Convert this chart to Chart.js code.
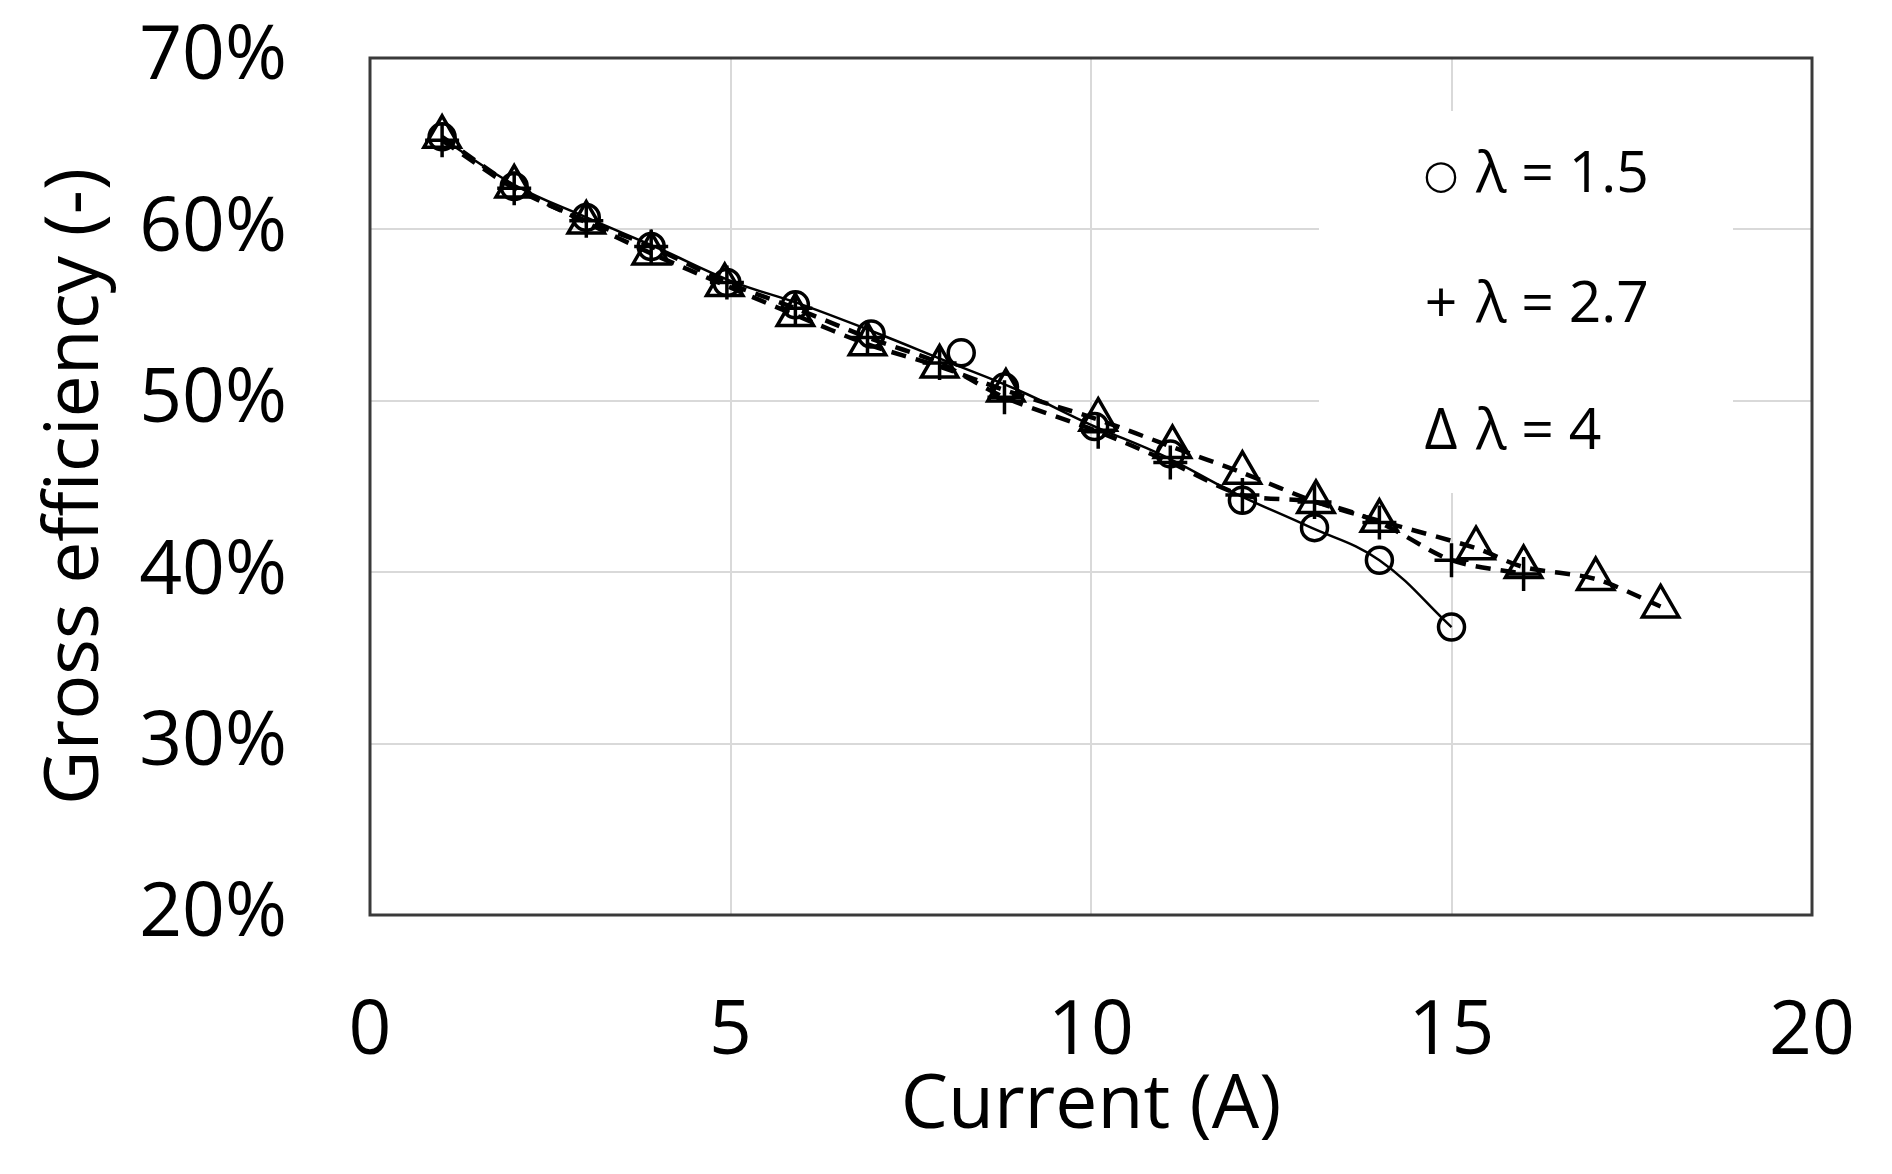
<!DOCTYPE html>
<html>
<head>
<meta charset="utf-8">
<script src="https://cdn.jsdelivr.net/npm/chart.js@4.4.1/dist/chart.umd.min.js"></script>
<style>
  html, body { margin: 0; padding: 0; background: #ffffff; }
  #wrap { position: relative; width: 1892px; height: 1174px; }
</style>
</head>
<body>
<div id="wrap"><canvas id="c" width="1892" height="1174"></canvas></div>
<script>
// ---------------- data ----------------
const xTickValues = [0, 5, 10, 15, 20];
const yTickValues = [20, 30, 40, 50, 60, 70];

// lambda = 1.5 (circles) measured points
const current15 = [1.0, 2.0, 3.0, 3.9, 4.95, 5.9, 6.95, 8.2, 8.8, 10.05, 11.1, 12.1, 13.1, 14.0, 15.0];
const eff15     = [65.4, 62.5, 60.7, 59.0, 56.9, 55.6, 53.9, 52.8, 50.8, 48.5, 46.9, 44.2, 42.6, 40.7, 36.8];

// lambda = 1.5 solid curve
const curveCurrent15 = [1, 2, 3, 4, 5, 6, 7, 8, 9, 10, 11, 12, 13, 14, 15];
const curveEff15     = [65.3, 62.6, 60.7, 58.9, 57.0, 55.6, 54.0, 52.3, 50.6, 48.6, 46.8, 44.6, 42.7, 40.7, 36.8];

// lambda = 2.7 (plus)
const current27 = [1.0, 2.0, 3.0, 3.9, 4.95, 5.9, 6.9, 7.9, 8.8, 10.1, 11.1, 12.1, 13.1, 14.0, 15.0, 16.0];
const eff27     = [65.2, 62.4, 60.5, 59.0, 56.9, 55.4, 53.7, 52.2, 50.2, 48.2, 46.4, 44.5, 44.1, 42.9, 40.7, 39.9];

// lambda = 4 (triangles)
const current4 = [1.0, 2.0, 3.0, 3.9, 4.92, 5.9, 6.9, 7.9, 8.82, 10.1, 11.13, 12.1, 13.12, 14.0, 15.34, 16.0, 17.0, 17.9];
const eff4     = [65.4, 62.5, 60.4, 58.6, 56.75, 55.0, 53.3, 52.0, 50.6, 48.9, 47.3, 45.8, 44.1, 43.0, 41.4, 40.3, 39.6, 38.0];

const legendSymbols = ['○', '+', 'Δ'];
const legendTexts = ['λ = 1.5', 'λ = 2.7', 'λ = 4'];

const xTitle = 'Current (A)';
const yTitle = 'Gross efficiency (-)';

// ---------------- helpers ----------------
const FONT = "'Open Sans', Lato, 'DejaVu Sans', sans-serif";
function pts(xs, ys) { return xs.map((x, i) => ({ x: x, y: ys[i] })); }

const frameAndLegend = {
  id: 'frameAndLegend',
  beforeDatasetsDraw(chart) {
    const { ctx, chartArea: a } = chart;
    ctx.save();
    // white legend box covering grid lines
    ctx.fillStyle = '#ffffff';
    ctx.fillRect(a.left + 949, a.top + 53, 414, 382);
    // plot frame
    ctx.strokeStyle = '#3a3a3a';
    ctx.lineWidth = 3;
    ctx.strokeRect(a.left, a.top, a.right - a.left, a.bottom - a.top);
    // legend text
    ctx.fillStyle = '#000000';
    const baseY = [a.top + 134, a.top + 264, a.top + 391];
    const symX = a.left + 1071;
    const txtX = a.left + 1106;
    for (let i = 0; i < legendTexts.length; i++) {
      ctx.textAlign = 'center';
      ctx.textBaseline = 'alphabetic';
      if (i === 0) {
        ctx.font = "40px 'DejaVu Sans', sans-serif";
        ctx.fillText(legendSymbols[i], symX, baseY[i] - 4);
      } else {
        ctx.font = '57px ' + FONT;
        ctx.fillText(legendSymbols[i], symX, baseY[i]);
      }
      ctx.textAlign = 'left';
      ctx.font = '57px ' + FONT;
      ctx.fillText(legendTexts[i], txtX, baseY[i]);
    }
    ctx.restore();
  }
};

new Chart(document.getElementById('c'), {
  type: 'scatter',
  data: {
    datasets: [
      {
        label: 'λ = 4',
        data: pts(current4, eff4),
        showLine: true,
        borderColor: '#000000',
        backgroundColor: 'rgba(0,0,0,0)',
        borderWidth: 4.5,
        borderDash: [15, 10],
        tension: 0.3,
        pointStyle: 'triangle',
        pointRadius: 21,
        pointBorderWidth: 3.5,
        pointBorderColor: '#000000',
        pointBackgroundColor: 'rgba(0,0,0,0)'
      },
      {
        label: 'λ = 2.7',
        data: pts(current27, eff27),
        showLine: true,
        borderColor: '#000000',
        backgroundColor: 'rgba(0,0,0,0)',
        borderWidth: 4.5,
        borderDash: [15, 10],
        tension: 0.3,
        pointStyle: 'cross',
        pointRadius: 17,
        pointBorderWidth: 3.5,
        pointBorderColor: '#000000',
        pointBackgroundColor: 'rgba(0,0,0,0)'
      },
      {
        label: 'λ = 1.5',
        data: pts(current15, eff15),
        showLine: false,
        pointStyle: 'circle',
        pointRadius: 13,
        pointBorderWidth: 3.5,
        pointBorderColor: '#000000',
        pointBackgroundColor: 'rgba(0,0,0,0)'
      },
      {
        label: 'λ = 1.5 curve',
        data: pts(curveCurrent15, curveEff15),
        showLine: true,
        borderColor: '#000000',
        borderWidth: 2.5,
        tension: 0.4,
        pointRadius: 0
      }
    ]
  },
  options: {
    responsive: false,
    animation: false,
    devicePixelRatio: 1,
    layout: { padding: { top: 58, right: 80, bottom: 0, left: 0 } },
    plugins: { legend: { display: false }, tooltip: { enabled: false } },
    scales: {
      x: {
        type: 'linear',
        min: xTickValues[0],
        max: xTickValues[xTickValues.length - 1],
        afterBuildTicks: (s) => { s.ticks = xTickValues.map(v => ({ value: v })); },
        afterFit: (s) => { s.height = 259; },
        ticks: {
          color: '#000000',
          font: { family: FONT, size: 75, lineHeight: 1 },
          padding: 0,
          maxRotation: 0,
          autoSkip: false
        },
        grid: { color: '#d9d9d9', lineWidth: 2, drawTicks: true, tickLength: 80, tickColor: 'rgba(0,0,0,0)' },
        border: { display: false },
        title: {
          display: true,
          text: xTitle,
          color: '#000000',
          font: { family: FONT, size: 75, lineHeight: 1 },
          padding: { top: 0, bottom: 30 }
        }
      },
      y: {
        type: 'linear',
        min: yTickValues[0],
        max: yTickValues[yTickValues.length - 1],
        afterBuildTicks: (s) => { s.ticks = yTickValues.map(v => ({ value: v })); },
        afterFit: (s) => { s.width = 370; },
        ticks: {
          color: '#000000',
          font: { family: FONT, size: 75, lineHeight: 1 },
          padding: 0,
          callback: (v) => v + '%'
        },
        grid: { color: '#d9d9d9', lineWidth: 2, drawTicks: true, tickLength: 83, tickColor: 'rgba(0,0,0,0)' },
        border: { display: false },
        title: {
          display: true,
          text: yTitle,
          color: '#000000',
          font: { family: FONT, size: 75, lineHeight: 1 },
          padding: { top: 39, bottom: 0 }
        }
      }
    }
  },
  plugins: [frameAndLegend]
});
</script>
</body>
</html>
